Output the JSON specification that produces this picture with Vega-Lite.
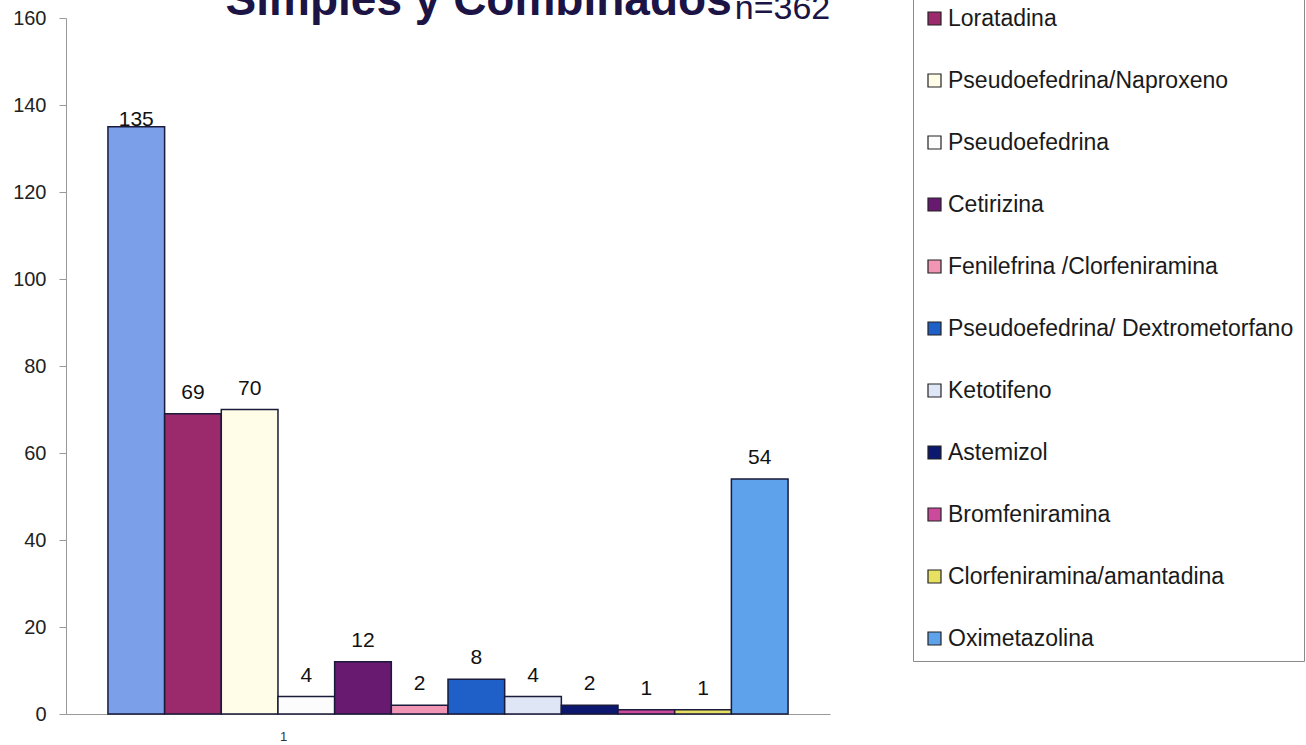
{
  "$schema": "https://vega.github.io/schema/vega-lite/v6.json",
  "width": 764,
  "height": 696,
  "autosize": {"type": "none"},
  "padding": {"left": 66, "top": 18, "right": 476, "bottom": 31},
  "background": "white",
  "data": {
    "values": [
      {"farmaco": "Clorfeniramina", "n": 135},
      {"farmaco": "Loratadina", "n": 69},
      {"farmaco": "Pseudoefedrina/Naproxeno", "n": 70},
      {"farmaco": "Pseudoefedrina", "n": 4},
      {"farmaco": "Cetirizina", "n": 12},
      {"farmaco": "Fenilefrina /Clorfeniramina", "n": 2},
      {"farmaco": "Pseudoefedrina/ Dextrometorfano", "n": 8},
      {"farmaco": "Ketotifeno", "n": 4},
      {"farmaco": "Astemizol", "n": 2},
      {"farmaco": "Bromfeniramina", "n": 1},
      {"farmaco": "Clorfeniramina/amantadina", "n": 1},
      {"farmaco": "Oximetazolina", "n": 54}
    ]
  },
  "layer": [
    {
      "mark": {"type": "bar", "stroke": "#1a1a3a", "strokeWidth": 1.5},
      "encoding": {
        "x": {
          "field": "farmaco",
          "type": "nominal",
          "sort": null,
          "scale": {"paddingInner": 0, "paddingOuter": 0.74},
          "axis": {
            "labels": false,
            "ticks": false,
            "domainColor": "#999999",
            "domainWidth": 1,
            "title": "1",
            "titleFont": "Liberation Sans",
            "titleFontSize": 13,
            "titleFontWeight": "normal",
            "titleColor": "#333333",
            "titleX": 217,
            "titleY": 26,
            "titleBaseline": "alphabetic"
          }
        },
        "y": {
          "field": "n",
          "type": "quantitative",
          "scale": {"domain": [0, 160], "nice": false},
          "axis": {
            "title": null,
            "values": [0, 20, 40, 60, 80, 100, 120, 140, 160],
            "grid": false,
            "domainColor": "#999999",
            "tickColor": "#999999",
            "tickSize": 7,
            "labelPadding": 13,
            "labelFont": "Liberation Sans",
            "labelFontSize": 20,
            "labelColor": "#222222"
          }
        },
        "color": {
          "field": "farmaco",
          "type": "nominal",
          "sort": null,
          "scale": {
            "domain": ["Clorfeniramina", "Loratadina", "Pseudoefedrina/Naproxeno", "Pseudoefedrina", "Cetirizina", "Fenilefrina /Clorfeniramina", "Pseudoefedrina/ Dextrometorfano", "Ketotifeno", "Astemizol", "Bromfeniramina", "Clorfeniramina/amantadina", "Oximetazolina"],
            "range": ["#7b9fe8", "#9a2a6c", "#fffde8", "#fcfcfc", "#681a70", "#f095b4", "#1e5fc8", "#dfe6f6", "#0c1870", "#cc4a9c", "#e8e060", "#5ea2ec"]
          },
          "legend": {
            "orient": "none",
            "legendX": 847,
            "legendY": -83,
            "title": null,
            "symbolType": "square",
            "symbolSize": 169,
            "symbolStrokeColor": "#222222",
            "symbolStrokeWidth": 1.2,
            "labelFont": "Liberation Sans",
            "labelFontSize": 23,
            "labelColor": "#1a1a1a",
            "labelLimit": 500,
            "labelOffset": 2,
            "rowPadding": 38,
            "padding": 10,
            "strokeColor": "#8a8a8a",
            "fillColor": "white"
          }
        }
      }
    },
    {
      "transform": [{"filter": "datum.n < 100"}],
      "mark": {"type": "text", "baseline": "alphabetic", "dy": -15, "font": "Liberation Sans", "fontSize": 21, "fill": "#111111"},
      "encoding": {
        "x": {"field": "farmaco", "type": "nominal", "sort": null},
        "y": {"field": "n", "type": "quantitative"},
        "text": {"field": "n", "type": "quantitative"}
      }
    },
    {
      "transform": [{"filter": "datum.n >= 100"}],
      "mark": {"type": "text", "baseline": "alphabetic", "dy": -1, "font": "Liberation Sans", "fontSize": 21, "fill": "#111111"},
      "encoding": {
        "x": {"field": "farmaco", "type": "nominal", "sort": null},
        "y": {"field": "n", "type": "quantitative"},
        "text": {"field": "n", "type": "quantitative"}
      }
    },
    {
      "transform": [{"filter": "datum.farmaco == 'Oximetazolina'"}],
      "mark": {"type": "text", "text": "Simples y Combinados", "align": "right", "baseline": "alphabetic", "dx": -28, "dy": -3, "font": "Liberation Sans", "fontSize": 46, "fontWeight": "bold", "fill": "#1c1445"},
      "encoding": {
        "x": {"field": "farmaco", "type": "nominal", "sort": null},
        "y": {"datum": 160}
      }
    },
    {
      "transform": [{"filter": "datum.farmaco == 'Oximetazolina'"}],
      "mark": {"type": "text", "text": "n=362", "align": "left", "baseline": "alphabetic", "dx": -25, "dy": 1, "font": "Liberation Sans", "fontSize": 34, "fill": "#1c1445"},
      "encoding": {
        "x": {"field": "farmaco", "type": "nominal", "sort": null},
        "y": {"datum": 160}
      }
    }
  ],
  "config": {
    "view": {"stroke": null},
    "axis": {"grid": false}
  }
}
